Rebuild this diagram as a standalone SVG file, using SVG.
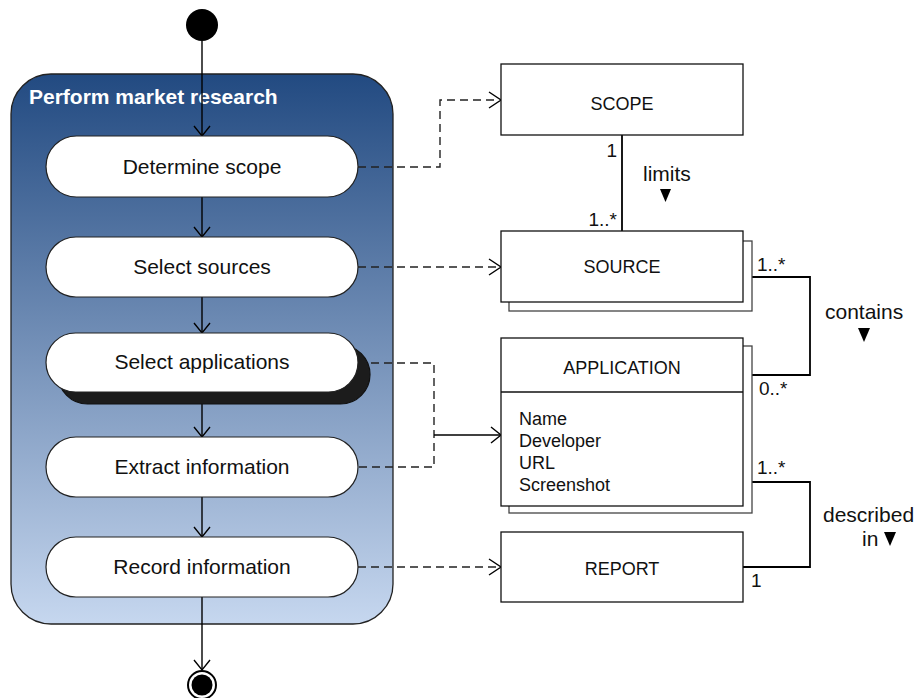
<svg xmlns="http://www.w3.org/2000/svg" width="917" height="698" viewBox="0 0 917 698">
  <defs>
    <linearGradient id="swimFill" x1="0" y1="0" x2="0" y2="1">
      <stop offset="0" stop-color="#224a81"/>
      <stop offset="1" stop-color="#c6d7ef"/>
    </linearGradient>
    <marker id="open" markerUnits="userSpaceOnUse" markerWidth="14" markerHeight="18" refX="11" refY="9" orient="auto">
      <path d="M1,1 L11,9 L1,17" fill="none" stroke="#000" stroke-width="1.4"/>
    </marker>
    <style>
      text { font-family: "Liberation Sans", Arial, sans-serif; fill: #111; }
      .act { fill: #fff; stroke: #222; stroke-width: 1.2; }
      .actText { font-size: 21px; text-anchor: middle; }
      .box { fill: #fff; stroke: #111; stroke-width: 1.3; }
      .back { fill: #fff; stroke: #444; stroke-width: 1.3; }
      .boxText { font-size: 18px; text-anchor: middle; }
      .attr { font-size: 18px; }
      .lbl { font-size: 19px; }
      .word { font-size: 21px; }
      .flow { fill: none; stroke: #000; stroke-width: 1.4; marker-end: url(#open); }
      .dep { fill: none; stroke: #222; stroke-width: 1.4; stroke-dasharray: 8 5; }
      .assoc { fill: none; stroke: #000; stroke-width: 1.8; }
    </style>
  </defs>

  <rect width="917" height="698" fill="#fff"/>

  <!-- swimlane / composite activity -->
  <g id="perform-market-research">
    <rect x="11" y="74" width="382" height="550" rx="40" ry="40" fill="url(#swimFill)" stroke="#222" stroke-width="1.3"/>
    <text x="29" y="104" style="font-size:21px;font-weight:bold;fill:#fff">Perform market research</text>
  </g>

  <!-- control flow and dependencies -->
  <g id="connectors">
    <line class="flow" x1="202" y1="41" x2="202" y2="136"/>
    <line class="flow" x1="202" y1="197" x2="202" y2="237"/>
    <line class="flow" x1="202" y1="297" x2="202" y2="333"/>
    <line class="flow" x1="202" y1="392" x2="202" y2="437"/>
    <line class="flow" x1="202" y1="497" x2="202" y2="537"/>
    <line class="flow" x1="202" y1="597" x2="202" y2="670"/>

    <path class="dep" d="M358,167 H440 V100 H497"/>
    <path d="M489,92 L501,100 L489,108" fill="none" stroke="#000" stroke-width="1.4"/>
    <path class="dep" d="M358,267 H497"/>
    <path d="M489,259 L501,267 L489,275" fill="none" stroke="#000" stroke-width="1.4"/>
    <path class="dep" d="M358,363 H434 V467 H358"/>
    <line class="flow" x1="434" y1="435" x2="501" y2="435"/>
    <path class="dep" d="M358,567 H497"/>
    <path d="M489,559 L501,567 L489,575" fill="none" stroke="#000" stroke-width="1.4"/>

    <!-- associations -->
    <line class="assoc" x1="622" y1="135" x2="622" y2="231"/>
    <path class="assoc" d="M752,277 H810 V375 H752"/>
    <path class="assoc" d="M752,482 H810 V567 H743"/>
  </g>

  <!-- association labels -->
  <g id="assoc-labels">
    <text class="lbl" x="617" y="157" text-anchor="end">1</text>
    <text class="lbl" x="617" y="226" text-anchor="end">1..*</text>
    <text class="word" x="643" y="181">limits</text>
    <path d="M660,189 H671 L665.5,202 Z" fill="#000"/>
    <text class="lbl" x="757" y="271">1..*</text>
    <text class="lbl" x="759" y="395">0..*</text>
    <text class="word" x="825" y="319">contains</text>
    <path d="M858,328 H870 L864,342 Z" fill="#000"/>
    <text class="lbl" x="757" y="474">1..*</text>
    <text class="lbl" x="751" y="587">1</text>
    <text class="word" x="823" y="522">described</text>
    <text class="word" x="862" y="546">in</text>
    <path d="M884,532 H896 L890,546 Z" fill="#000"/>
  </g>

  <!-- start node -->
  <g id="start">
    <circle cx="202" cy="25" r="16" fill="#000"/>
  </g>

  <!-- activities -->
  <g id="determine-scope">
    <rect class="act" x="46" y="136" width="312" height="61" rx="30.5"/>
    <text class="actText" x="202" y="174">Determine scope</text>
  </g>
  <g id="select-sources">
    <rect class="act" x="46" y="237" width="312" height="60" rx="30"/>
    <text class="actText" x="202" y="274">Select sources</text>
  </g>
  <g id="select-applications">
    <rect x="58" y="345" width="312" height="59" rx="29.5" fill="#1c1c1c" stroke="#111" stroke-width="1.2"/>
    <rect class="act" x="46" y="333" width="312" height="59" rx="29.5"/>
    <text class="actText" x="202" y="369">Select applications</text>
  </g>
  <g id="extract-information">
    <rect class="act" x="46" y="437" width="312" height="60" rx="30"/>
    <text class="actText" x="202" y="474">Extract information</text>
  </g>
  <g id="record-information">
    <rect class="act" x="46" y="537" width="312" height="60" rx="30"/>
    <text class="actText" x="202" y="574">Record information</text>
  </g>

  <!-- end node -->
  <g id="end">
    <circle cx="202" cy="685" r="14" fill="#fff" stroke="#000" stroke-width="2"/>
    <circle cx="202" cy="685" r="10.5" fill="#000"/>
  </g>

  <!-- domain classes -->
  <g id="scope">
    <rect class="box" x="501" y="64" width="242" height="71"/>
    <text class="boxText" x="622" y="110">SCOPE</text>
  </g>
  <g id="source">
    <rect class="back" x="509" y="241" width="243" height="70"/>
    <rect class="box" x="501" y="231" width="242" height="71"/>
    <text class="boxText" x="622" y="273">SOURCE</text>
  </g>
  <g id="application">
    <rect class="back" x="509" y="346" width="243" height="167"/>
    <rect class="box" x="501" y="338" width="242" height="168"/>
    <line x1="501" y1="392" x2="743" y2="392" stroke="#111" stroke-width="1.3"/>
    <text class="boxText" x="622" y="374">APPLICATION</text>
    <text class="attr" x="519" y="425">Name</text>
    <text class="attr" x="519" y="447">Developer</text>
    <text class="attr" x="519" y="469">URL</text>
    <text class="attr" x="519" y="491">Screenshot</text>
  </g>
  <g id="report">
    <rect class="box" x="501" y="532" width="242" height="70"/>
    <text class="boxText" x="622" y="575">REPORT</text>
  </g>
</svg>
